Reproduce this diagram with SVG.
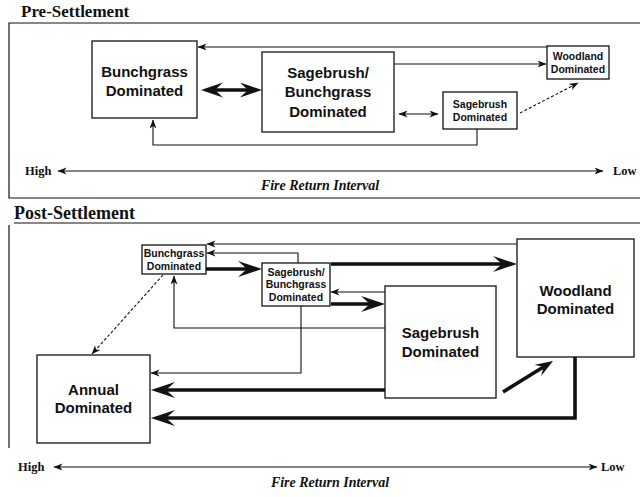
<svg xmlns="http://www.w3.org/2000/svg" width="640" height="497" viewBox="0 0 640 497">
<style>
.bg{fill:#fff}
.box{fill:#fff;stroke:#111;stroke-width:1.3}
.lbl{font-family:"Liberation Sans",Arial,sans-serif;font-weight:bold;fill:#111;text-anchor:middle}
.l15{font-size:15px}
.l10{font-size:10.5px}
.title{font-family:"Liberation Serif","Times New Roman",serif;font-weight:bold;fill:#111}
.axis{font-family:"Liberation Serif","Times New Roman",serif;font-weight:bold;fill:#111;font-size:12.5px}
.fri{font-family:"Liberation Serif","Times New Roman",serif;font-weight:bold;font-style:italic;fill:#111;font-size:14px;text-anchor:middle}
.frame{fill:none;stroke:#111;stroke-width:1.2}
.thin{fill:none;stroke:#111;stroke-width:1.1;marker-end:url(#ah)}
.dash{stroke-dasharray:3 2}
.thick{fill:none;stroke:#111;stroke-width:3.6;marker-end:url(#big)}
</style>
<defs>
<marker id="ah" markerUnits="userSpaceOnUse" markerWidth="10" markerHeight="8" refX="8.5" refY="3.5" orient="auto-start-reverse">
<path d="M0,0 L9,3.5 L0,7 L2.5,3.5 Z" fill="#111"/>
</marker>
<marker id="big" markerUnits="userSpaceOnUse" markerWidth="26" markerHeight="18" refX="14" refY="8" orient="auto-start-reverse">
<path d="M0,0 L24,8 L0,16 L9,8 Z" fill="#111"/>
</marker>
<marker id="bigp" markerUnits="userSpaceOnUse" markerWidth="24" markerHeight="17" refX="12" refY="7.5" orient="auto-start-reverse">
<path d="M0,0 L22,7.5 L0,15 L8,7.5 Z" fill="#111"/>
</marker>
<marker id="mid" markerUnits="userSpaceOnUse" markerWidth="20" markerHeight="14" refX="10" refY="6.5" orient="auto">
<path d="M0,0 L18,6.5 L0,13 L7,6.5 Z" fill="#111"/>
</marker>
</defs>
<rect class="bg" x="0" y="0" width="640" height="497"/>

<g id="pre-frame">
<text class="title" x="21" y="17" font-size="17">Pre-Settlement</text>
<path class="frame" d="M640,23 L9,23 L9,198 L640,198"/>
<text class="axis" x="25" y="175">High</text>
<text class="axis" x="613" y="175">Low</text>
<text class="fri" x="320" y="190">Fire Return Interval</text>
</g>

<g id="post-frame">
<text class="title" x="14" y="219" font-size="18">Post-Settlement</text>
<path class="frame" d="M640,223 L14,223 M9,225 L9,448"/>
<text class="axis" x="18" y="471">High</text>
<text class="axis" x="601" y="471">Low</text>
<text class="fri" x="330" y="487">Fire Return Interval</text>
</g>

<g id="connectors">
<!-- pre -->
<path d="M211,90 L252,90" fill="none" stroke="#111" stroke-width="3.6" marker-start="url(#bigp)" marker-end="url(#bigp)"/>
<path class="thin" d="M547,47 L198,47"/>
<path class="thin" d="M394,64 L546,64"/>
<path class="thin" d="M399,114 L438,114" marker-start="url(#ah)"/>
<path class="thin dash" d="M520,113 L578,83"/>
<path class="thin" d="M477,129 L477,145 L153,145 L153,120"/>
<path class="thin" d="M58,171 L603,171" marker-start="url(#ah)"/>
<!-- post -->
<path class="thin" d="M517,244 L207,244"/>
<path class="thin" d="M298,263 L298,253 L207,253"/>
<path class="thick" d="M206,269 L252,269"/>
<path class="thick" d="M331,264 L507,264"/>
<path class="thin" d="M385,292 L331,292"/>
<path class="thick" d="M331,304 L375,304"/>
<path class="thin" d="M385,328 L174,328 L174,276"/>
<path class="thin dash" d="M163,275 L92,354"/>
<path class="thin" d="M301,306 L301,373 L151,373"/>
<path class="thick" d="M385,390 L161,390"/>
<path class="thick" d="M575,357 L575,418 L161,418"/>
<path d="M503,392 L546.2,365.2" fill="none" stroke="#111" stroke-width="3.6" marker-end="url(#mid)"/>
<path class="thin" d="M54,467 L597,467" marker-start="url(#ah)"/>
</g>

<g id="pre-bunchgrass">
<rect class="box" x="92" y="41" width="105" height="77"/>
<text class="lbl l15" x="144.5" y="77">Bunchgrass</text>
<text class="lbl l15" x="144.5" y="96">Dominated</text>
</g>
<g id="pre-sagebrush-bunchgrass">
<rect class="box" x="262" y="52" width="132" height="80"/>
<text class="lbl l15" x="328" y="78">Sagebrush/</text>
<text class="lbl l15" x="328" y="97">Bunchgrass</text>
<text class="lbl l15" x="328" y="117">Dominated</text>
</g>
<g id="pre-sagebrush">
<rect class="box" x="443" y="92" width="74" height="37"/>
<text class="lbl l10" x="480" y="108">Sagebrush</text>
<text class="lbl l10" x="480" y="121">Dominated</text>
</g>
<g id="pre-woodland">
<rect class="box" x="547" y="46" width="62" height="33"/>
<text class="lbl l10" x="578" y="60">Woodland</text>
<text class="lbl l10" x="578" y="73">Dominated</text>
</g>

<g id="post-bunchgrass">
<rect class="box" x="142" y="245" width="64" height="29"/>
<text class="lbl l10" x="174" y="257">Bunchgrass</text>
<text class="lbl l10" x="174" y="270">Dominated</text>
</g>
<g id="post-sagebrush-bunchgrass">
<rect class="box" x="262" y="263" width="68" height="43"/>
<text class="lbl l10" x="296" y="276">Sagebrush/</text>
<text class="lbl l10" x="296" y="288">Bunchgrass</text>
<text class="lbl l10" x="296" y="301">Dominated</text>
</g>
<g id="post-sagebrush">
<rect class="box" x="385" y="286" width="111" height="112"/>
<text class="lbl l15" x="440.5" y="338">Sagebrush</text>
<text class="lbl l15" x="440.5" y="357">Dominated</text>
</g>
<g id="post-woodland">
<rect class="box" x="517" y="239" width="117" height="118"/>
<text class="lbl l15" x="575.5" y="296">Woodland</text>
<text class="lbl l15" x="575.5" y="314">Dominated</text>
</g>
<g id="post-annual">
<rect class="box" x="37" y="355" width="113" height="88"/>
<text class="lbl l15" x="93.5" y="395">Annual</text>
<text class="lbl l15" x="93.5" y="413">Dominated</text>
</g>
</svg>
